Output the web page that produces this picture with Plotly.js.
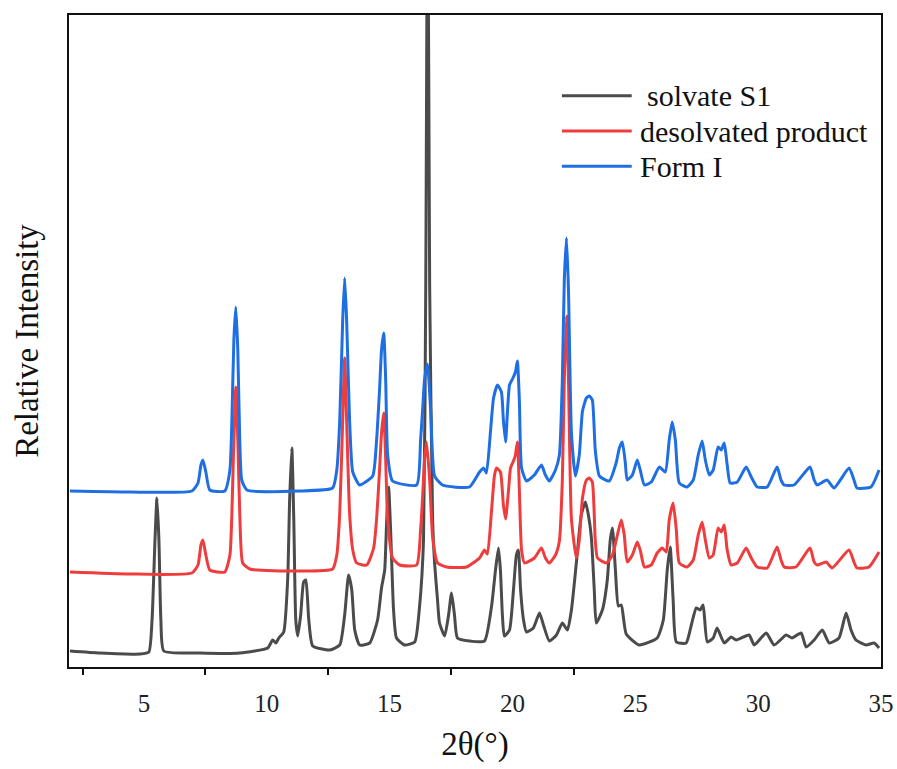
<!DOCTYPE html>
<html>
<head>
<meta charset="utf-8">
<script src="https://cdn.plot.ly/plotly-3.0.1.min.js"></script>
<style>html,body{margin:0;padding:0;background:#fff;}#chart{width:897px;height:769px;}</style>
</head>
<body>
<div id="chart"></div>
<script>
// 2θ (degrees) and plotted intensity (arbitrary units, curves stacked)
const blackX = [1.99,3.21,4.84,5.20,5.33,5.45,5.53,5.61,5.69,5.81,7.28,8.90,10.04,10.24,10.37,10.49,10.69,10.85,10.93,11.02,11.10,11.18,11.26,11.38,11.50,11.59,11.71,11.87,12.56,12.97,13.17,13.33,13.46,13.58,13.78,14.19,14.51,14.67,14.80,14.88,14.96,15.04,15.16,15.28,15.61,16.02,16.22,16.38,16.47,16.55,16.63,16.75,16.83,16.95,17.03,17.24,17.40,17.52,17.64,17.76,18.25,18.86,19.15,19.31,19.43,19.51,19.59,19.67,19.88,20.04,20.16,20.24,20.33,20.45,20.57,20.85,21.10,21.26,21.50,21.79,22.03,22.24,22.40,22.60,22.80,22.97,23.09,23.21,23.33,23.41,23.66,23.86,23.98,24.07,24.19,24.31,24.43,24.63,25.16,25.89,26.14,26.30,26.42,26.54,26.67,27.07,27.28,27.48,27.64,27.76,27.93,28.17,28.33,28.62,28.90,29.11,29.63,29.84,30.33,30.65,31.14,31.38,31.75,31.95,32.28,32.61,32.89,33.29,33.58,33.78,33.98,34.39,34.72,34.92];
const blackY = [16,14,13,15,47,127,169,127,47,16,14,14,19,27,24,29,35,87,167,219,147,47,31,52,85,87,47,21,17,22,52,92,77,37,22,24,47,79,97,147,180,137,57,29,22,25,61,127,380,820,380,147,104,67,44,31,52,74,52,29,26,26,61,97,119,97,52,31,37,77,112,117,77,47,35,39,54,42,26,32,44,37,57,104,152,165,152,130,77,44,57,87,127,139,97,61,62,33,22,29,47,97,120,67,25,24,42,59,57,62,25,29,39,24,30,27,32,22,34,22,32,29,34,20,27,37,24,29,54,37,27,22,24,19];

const redX = [1.99,4.43,6.95,7.20,7.32,7.40,7.52,7.68,8.29,8.50,8.58,8.66,8.74,8.82,8.90,9.02,9.31,11.34,12.68,12.85,12.97,13.09,13.17,13.25,13.37,13.50,13.66,14.07,14.35,14.47,14.59,14.67,14.76,14.84,14.92,15.12,15.41,16.10,16.26,16.34,16.42,16.50,16.63,16.75,16.95,17.32,18.13,18.66,18.86,18.98,19.15,19.27,19.35,19.51,19.63,19.72,19.84,19.92,20.04,20.12,20.20,20.28,20.37,20.49,20.89,21.18,21.34,21.50,21.75,21.91,22.03,22.11,22.20,22.28,22.40,22.60,22.72,22.85,23.01,23.13,23.25,23.37,23.46,23.82,24.07,24.27,24.43,24.55,24.67,24.88,25.08,25.20,25.37,25.65,25.89,26.10,26.26,26.38,26.54,26.67,26.79,27.11,27.36,27.56,27.72,27.85,28.01,28.17,28.37,28.50,28.62,28.74,28.90,29.15,29.51,29.72,29.96,30.37,30.77,30.93,31.06,31.54,32.11,32.28,32.40,32.77,33.01,33.70,33.90,34.02,34.51,34.92];
const redY = [95,93,94,102,122,127,112,97,95,112,154,227,280,227,154,104,98,96,98,112,154,247,309,247,154,117,104,102,119,148,197,234,254,207,148,109,102,102,137,169,207,225,187,130,104,100,100,109,117,113,157,192,199,195,162,148,177,199,206,212,225,177,117,104,109,119,109,104,112,126,187,287,351,287,148,109,127,169,187,189,185,127,109,104,112,132,147,132,105,112,125,117,100,102,114,119,115,147,164,137,104,100,107,132,145,127,109,112,139,135,142,117,102,104,119,109,100,99,120,107,100,100,119,105,102,105,99,117,105,99,100,115];

const blueX = [1.99,4.43,6.95,7.20,7.32,7.40,7.52,7.68,8.29,8.50,8.58,8.66,8.74,8.82,8.90,8.98,9.19,11.34,12.68,12.85,12.97,13.09,13.17,13.25,13.37,13.50,13.78,14.31,14.47,14.59,14.67,14.76,14.84,14.92,15.12,16.10,16.26,16.34,16.42,16.54,16.67,16.83,17.15,18.25,18.66,18.82,18.94,19.11,19.23,19.39,19.55,19.63,19.72,19.80,19.88,20.00,20.12,20.20,20.28,20.37,20.57,20.89,21.18,21.34,21.50,21.75,21.91,22.03,22.11,22.20,22.28,22.40,22.56,22.72,22.85,23.01,23.13,23.25,23.37,23.54,23.94,24.23,24.35,24.47,24.59,24.67,24.88,25.08,25.20,25.37,25.65,25.98,26.22,26.38,26.50,26.63,26.79,27.11,27.36,27.56,27.72,27.85,28.01,28.17,28.37,28.50,28.62,28.74,28.86,29.15,29.51,29.72,29.96,30.37,30.77,30.93,31.06,31.46,32.11,32.28,32.40,32.80,33.09,33.70,33.90,34.02,34.59,34.92];
const blueY = [176,175,176,184,202,207,195,177,176,197,247,327,360,317,227,187,177,176,179,197,247,347,389,347,247,195,182,191,227,277,317,334,287,212,186,182,227,256,287,303,257,191,182,180,195,199,194,237,269,282,275,247,225,257,282,288,295,306,267,199,186,192,202,192,186,197,212,287,387,429,377,234,191,212,256,269,271,267,217,191,186,205,219,225,205,187,192,207,197,182,185,200,195,227,245,227,184,180,187,212,226,207,192,197,220,217,224,202,184,185,200,190,180,180,200,187,182,182,200,187,182,187,179,199,187,179,180,197];

const seriesNames = [' solvate S1', 'desolvated product', 'Form I'];
const seriesColors = ['#4b4b4b', '#ef3d3d', '#1f6fe2'];
const xTickVals = [5, 10, 15, 20, 25, 30, 35];
const xMinorTicks = [2.5, 7.5, 12.5, 17.5, 22.5];

const serif = 'Liberation Serif, Times New Roman, serif';
const xs = [blackX, redX, blueX];
const ys = [blackY, redY, blueY];

const traces = xs.map((x, i) => ({
  x: x, y: ys[i], type: 'scatter', mode: 'lines', name: seriesNames[i],
  line: {color: seriesColors[i], width: 3, shape: 'spline', smoothing: 0.5}, showlegend: false, hoverinfo: 'skip'
}));

// manual legend (long sample lines as in the reference)
const L = {x0: 0.607, x1: 0.693, tx: 0.701, ys: [0.876, 0.822, 0.768]};
const shapes = seriesNames.map((n, i) => ({
  type: 'line', xref: 'paper', yref: 'paper', x0: L.x0, x1: L.x1, y0: L.ys[i], y1: L.ys[i],
  line: {color: seriesColors[i], width: 3}
}));
const annotations = seriesNames.map((n, i) => ({
  xref: 'paper', yref: 'paper', x: i === 0 ? L.tx + 0.008 : L.tx, y: L.ys[i],
  xanchor: 'left', yanchor: 'middle', showarrow: false, text: n.trim(),
  font: {family: serif, size: 30, color: '#111'}
}));

const layout = {
  width: 897, height: 769,
  margin: {l: 69, r: 16, t: 15, b: 102},
  paper_bgcolor: '#fff', plot_bgcolor: '#fff',
  showlegend: false,
  xaxis: {
    range: [1.95, 35], tickmode: 'array', tickvals: xTickVals, ticktext: xTickVals.map(String),
    ticks: '', showgrid: false, zeroline: false,
    showline: true, linecolor: '#111', linewidth: 2, mirror: true,
    tickfont: {family: serif, size: 25, color: '#222'}, ticklabelstandoff: 13,
    minor: {tickmode: 'array', tickvals: xMinorTicks, ticks: 'outside', ticklen: 6, tickwidth: 2, tickcolor: '#111', showgrid: false},
    title: {text: '2θ(°)', font: {family: serif, size: 33, color: '#111'}, standoff: 16}
  },
  yaxis: {
    range: [0, 652], showticklabels: false, ticks: '', showgrid: false, zeroline: false,
    showline: true, linecolor: '#111', linewidth: 2, mirror: true,
    title: {text: 'Relative Intensity', font: {family: serif, size: 33, color: '#111'}, standoff: 18}
  },
  shapes: shapes,
  annotations: annotations
};

Plotly.newPlot('chart', traces, layout, {displayModeBar: false, staticPlot: true});
</script>
</body>
</html>
